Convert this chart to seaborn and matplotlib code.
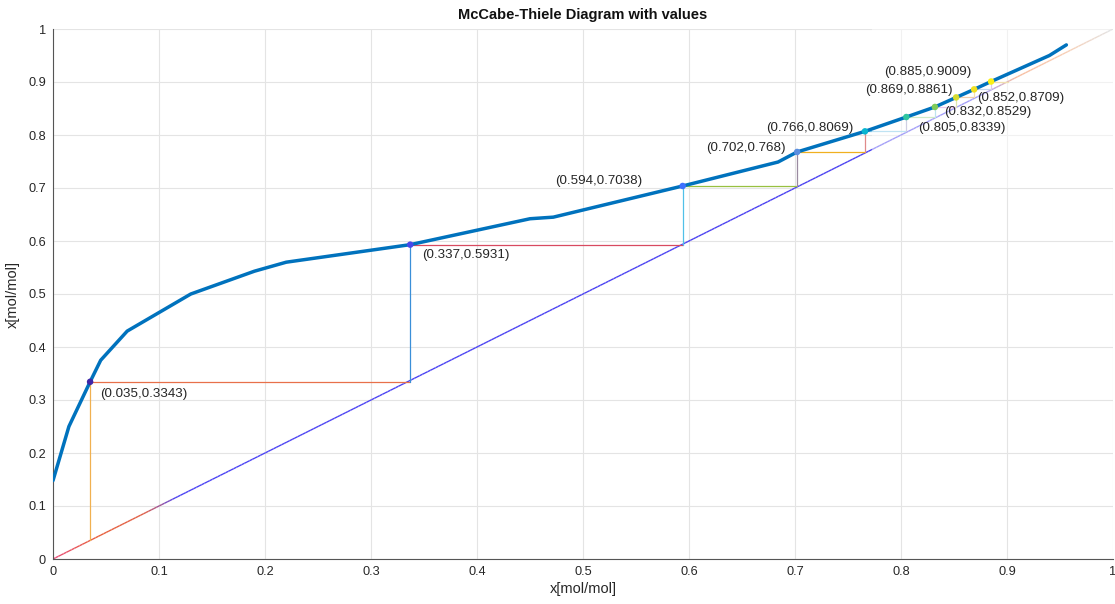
import numpy as np
import pandas as pd
import matplotlib
matplotlib.use("Agg")
import matplotlib.pyplot as plt
import seaborn as sns
from matplotlib.collections import LineCollection
from matplotlib.colors import LinearSegmentedColormap
from matplotlib.patches import Rectangle

# ---------------- data ----------------
eq_x = [0.0, 0.015, 0.035, 0.045, 0.07, 0.13, 0.19, 0.22, 0.337, 0.45, 0.472,
        0.594, 0.684, 0.702, 0.766, 0.805, 0.832, 0.852, 0.869, 0.885, 0.94, 0.956]
eq_y = [0.148, 0.25, 0.3343, 0.375, 0.43, 0.50, 0.543, 0.56, 0.5931, 0.642, 0.645,
        0.7038, 0.749, 0.768, 0.8069, 0.8339, 0.8529, 0.8709, 0.8861, 0.9009, 0.95, 0.970]

stage_x = [0.035, 0.337, 0.594, 0.702, 0.766, 0.805, 0.832, 0.852, 0.869, 0.885]
stage_y = [0.3343, 0.5931, 0.7038, 0.768, 0.8069, 0.8339, 0.8529, 0.8709, 0.8861, 0.9009]
stage_labels = ["(0.035,0.3343)", "(0.337,0.5931)", "(0.594,0.7038)", "(0.702,0.768)",
                "(0.766,0.8069)", "(0.805,0.8339)", "(0.832,0.8529)", "(0.852,0.8709)",
                "(0.869,0.8861)", "(0.885,0.9009)"]

diag = [0.0, 1.0]
ticks = [0, 0.1, 0.2, 0.3, 0.4, 0.5, 0.6, 0.7, 0.8, 0.9, 1.0]
tick_labels = ["0", "0.1", "0.2", "0.3", "0.4", "0.5", "0.6", "0.7", "0.8", "0.9", "1"]

title = "McCabe-Thiele Diagram with values"
xlabel = "x[mol/mol]"
ylabel = "x[mol/mol]"

# ---------------- styles ----------------
dot_colors = ["#3e26a8", "#4747eb", "#3e6fff", "#5a8ee0", "#08b5d0",
              "#31c69f", "#80cc59", "#d6dc30", "#f0e020", "#f9f015"]
vert_colors = ["#f0b050", "#3a8fd8", "#50c0e8", "#9a8aa0", "#e08a8a",
               "#a0a0c8", "#80c8e0", "#c0d060", "#f0c060", "#c090d0"]
horiz_colors = ["#e8704a", "#d84a60", "#98c040", "#f0b020", "#80c8e8",
                "#a0d890", "#d890d8", "#e0a060", "#90b0e0", "#e0c060"]
label_offsets = [(10, -12, "left"), (12, -10, "left"), (-40, 5, "right"),
                 (-11, 4, "right"), (-11, 3, "right"), (12, -11, "left"),
                 (9, -5, "left"), (21, -1, "left"), (-21, -1, "right"),
                 (-20, 10, "right")]

sns.set_theme(style="white")
plt.rcParams['font.family'] = ['Liberation Sans', 'DejaVu Sans']

fig = plt.figure(figsize=(11.15, 6.04), dpi=100)
ax = fig.add_axes([53 / 1115, 45 / 604, 1060 / 1115, 530 / 604])

# grid
ax.set_axisbelow(True)
ax.grid(True, color="#e4e4e4", lw=0.8)

# diagonal with gradient colour
cmap = LinearSegmentedColormap.from_list("diag", [
    (0.0, "#e8507a"), (0.04, "#e8603c"), (0.085, "#e06048"), (0.115, "#4c44f4"),
    (0.88, "#4a40f0"), (0.91, "#f07a40"), (0.96, "#f0a070"), (1.0, "#c8c8c8")])
t = np.linspace(diag[0], diag[1], 400)
pts = np.column_stack([t, t]).reshape(-1, 1, 2)
segs = np.concatenate([pts[:-1], pts[1:]], axis=1)
lc = LineCollection(segs, colors=cmap((t[:-1] + t[1:]) / 2), linewidths=1.0, zorder=2)
ax.add_collection(lc)

# stage steps
n = len(stage_x)
for i in range(n):
    y0 = stage_y[i - 1] if i > 0 else stage_x[0]
    ax.plot([stage_x[i], stage_x[i]], [y0, stage_y[i]], color=vert_colors[i], lw=0.9, zorder=2)
    x1 = stage_x[i + 1] if i < n - 1 else stage_y[i]
    ax.plot([stage_x[i], x1], [stage_y[i], stage_y[i]], color=horiz_colors[i], lw=0.9, zorder=2)

# white translucent overlay in upper right
ax.add_patch(Rectangle((0.773, 0.70), 0.3, 0.35, facecolor="white", edgecolor="none",
                       alpha=0.5, zorder=2.5))

# equilibrium curve
df_eq = pd.DataFrame({"x": eq_x, "y": eq_y})
sns.lineplot(data=df_eq, x="x", y="y", sort=False, color="#0072BD", lw=2.5, ax=ax, zorder=3)

# stage points
df_st = pd.DataFrame({"x": stage_x, "y": stage_y, "c": stage_labels})
sns.scatterplot(data=df_st, x="x", y="y", hue="c", palette=dot_colors, s=22,
                edgecolor="none", legend=False, ax=ax, zorder=4)

for i in range(n):
    dx, dy, ha = label_offsets[i]
    ax.annotate(stage_labels[i], (stage_x[i], stage_y[i]), xytext=(dx, dy),
                textcoords="offset pixels", ha=ha, va="center", fontsize=9.6,
                color="#262626", zorder=5)

ax.set_xlim(0, 1)
ax.set_ylim(0, 1)
ax.set_xticks(ticks)
ax.set_xticklabels(tick_labels)
ax.set_yticks(ticks)
ax.set_yticklabels(tick_labels)
ax.tick_params(direction="in", length=7, width=0.8, color="#555555",
               labelsize=9.2, labelcolor="#262626", pad=5)
for s in ["top", "right"]:
    ax.spines[s].set_visible(False)
for s in ["left", "bottom"]:
    ax.spines[s].set_color("#555555")
    ax.spines[s].set_linewidth(0.8)

ax.set_xlabel(xlabel, fontsize=10.5, color="#262626", labelpad=3)
ax.set_ylabel(ylabel, fontsize=10.5, color="#262626", labelpad=6)
ax.set_title(title, fontsize=10.5, fontweight="bold", color="#111111", pad=7)

fig.savefig("out.png", dpi=100)
